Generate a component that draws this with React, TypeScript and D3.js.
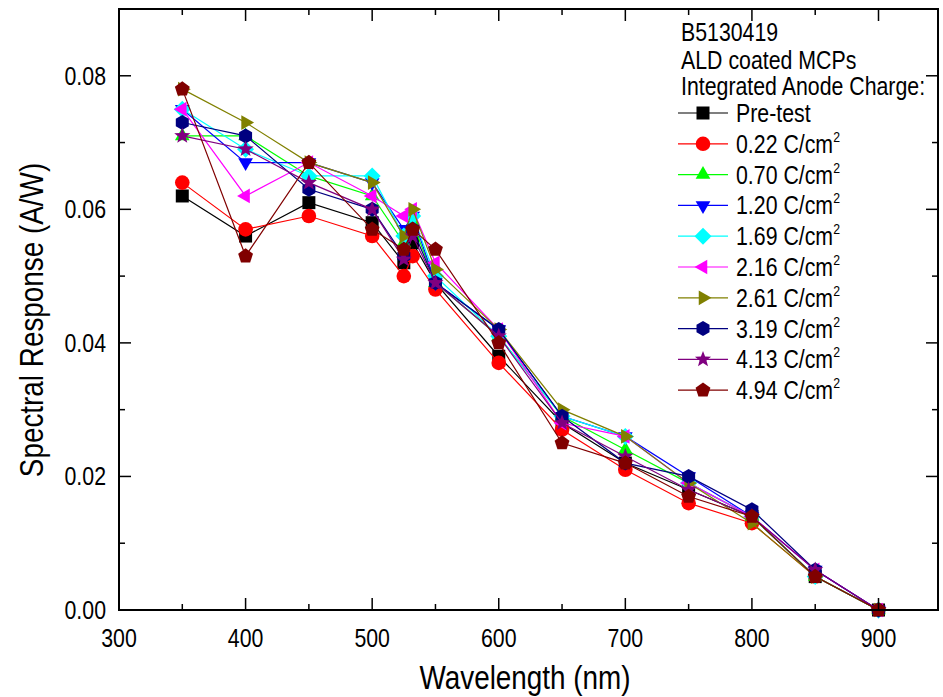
import React from "react";
import * as d3 from "d3";

const wavelengths = [350, 400, 450, 500, 525, 532, 550, 600, 650, 700, 750, 800, 850, 900];

const seriesNames = ["Pre-test", "0.22", "0.70", "1.20", "1.69", "2.16", "2.61", "3.19", "4.13", "4.94"];
const seriesColors = ["#000000", "#FF0000", "#00FF00", "#0000FF", "#00FFFF", "#FF00FF", "#808000", "#000080", "#800080", "#800000"];
const seriesSymbols = ["square", "circle", "up", "down", "diamond", "left", "right", "hexagon", "star", "pentagon"];

const preTest = [0.062, 0.056, 0.061, 0.058, 0.052, 0.055, 0.049, 0.038, 0.028, 0.022, 0.018, 0.014, 0.005, 0];
const c022 = [0.064, 0.057, 0.059, 0.056, 0.050, 0.053, 0.048, 0.037, 0.027, 0.021, 0.016, 0.013, 0.005, 0];
const c070 = [0.071, 0.071, 0.065, 0.062, 0.055, 0.058, 0.049, 0.041, 0.029, 0.024, 0.019, 0.014, 0.005, 0];
const c120 = [0.075, 0.067, 0.067, 0.064, 0.057, 0.059, 0.049, 0.042, 0.029, 0.026, 0.020, 0.014, 0.006, 0];
const c169 = [0.075, 0.069, 0.065, 0.065, 0.056, 0.059, 0.050, 0.041, 0.029, 0.026, 0.019, 0.014, 0.005, 0];
const c216 = [0.075, 0.062, 0.067, 0.062, 0.059, 0.060, 0.052, 0.042, 0.028, 0.026, 0.019, 0.014, 0.006, 0];
const c261 = [0.078, 0.073, 0.067, 0.064, 0.056, 0.060, 0.051, 0.042, 0.030, 0.026, 0.019, 0.013, 0.005, 0];
const c319 = [0.073, 0.071, 0.063, 0.060, 0.053, 0.057, 0.049, 0.042, 0.029, 0.022, 0.020, 0.015, 0.006, 0];
const c413 = [0.071, 0.069, 0.064, 0.060, 0.0525, 0.056, 0.049, 0.041, 0.028, 0.023, 0.018, 0.014, 0.006, 0];
const c494 = [0.078, 0.053, 0.067, 0.057, 0.054, 0.057, 0.054, 0.040, 0.025, 0.022, 0.017, 0.014, 0.005, 0];

const allSeries = [preTest, c022, c070, c120, c169, c216, c261, c319, c413, c494];

const headerLines = ["B5130419", "ALD coated MCPs", "Integrated Anode Charge:"];
const xTicks = [300, 400, 500, 600, 700, 800, 900];
const yTicks = [0, 0.02, 0.04, 0.06, 0.08];

const FONT = "'Liberation Sans', Arial, Helvetica, sans-serif";
const SX = 0.82;

function poly(n: number, r: number, rot: number) {
  const pts: string[] = [];
  for (let i = 0; i < n; i++) {
    const a = rot + (i * 2 * Math.PI) / n;
    pts.push(`${(r * Math.cos(a)).toFixed(2)},${(r * Math.sin(a)).toFixed(2)}`);
  }
  return "M" + pts.join("L") + "Z";
}
function starPath(ro: number, ri: number) {
  const pts: string[] = [];
  for (let i = 0; i < 10; i++) {
    const r = i % 2 === 0 ? ro : ri;
    const a = -Math.PI / 2 + (i * Math.PI) / 5;
    pts.push(`${(r * Math.cos(a)).toFixed(2)},${(r * Math.sin(a)).toFixed(2)}`);
  }
  return "M" + pts.join("L") + "Z";
}

const symbolPaths: Record<string, string> = {
  square: "M-6.5,-6.5L6.5,-6.5L6.5,6.5L-6.5,6.5Z",
  circle: d3.symbol().type(d3.symbolCircle).size(Math.PI * 7.3 * 7.3)() as string,
  up: poly(3, 8.5, -Math.PI / 2),
  down: poly(3, 8.5, Math.PI / 2),
  diamond: "M0,-8.5L8.5,0L0,8.5L-8.5,0Z",
  left: poly(3, 8.5, Math.PI),
  right: poly(3, 8.5, 0),
  hexagon: poly(6, 7.5, Math.PI / 2),
  star: starPath(8.5, 3.6),
  pentagon: poly(5, 7.8, -Math.PI / 2),
};

function Txt(props: { x: number; y: number; size: number; anchor?: string; rotate?: number; children: React.ReactNode }) {
  const { x, y, size, anchor = "start", rotate = 0, children } = props;
  return (
    <text
      transform={`translate(${x},${y}) rotate(${rotate}) scale(${SX},1)`}
      fontSize={size}
      fontFamily={FONT}
      textAnchor={anchor}
      fill="#000"
    >
      {children}
    </text>
  );
}

export default function App() {
  const W = 943, H = 697;
  const x = d3.scaleLinear().domain([300, 947]).range([119, 938]);
  const y = d3.scaleLinear().domain([0, 0.09]).range([610, 9]);
  const line = d3.line<number>().x((_, i) => x(wavelengths[i])).y((d) => y(d));

  const xMinor = d3.range(300, 947, 50);
  const yMinor = d3.range(0, 0.0901, 0.01);

  const left = x(300), right = x(947), top = y(0.09), bottom = y(0);

  return (
    <svg width={W} height={H} style={{ position: "absolute", left: 0, top: 0, background: "#fff" }}>
      <rect x={0} y={0} width={W} height={H} fill="#fff" />
      {/* series */}
      {allSeries.map((s, si) => (
        <g key={si}>
          <path d={line(s) as string} fill="none" stroke={seriesColors[si]} strokeWidth={1.2} />
          {s.map((v, i) => (
            <path
              key={i}
              d={symbolPaths[seriesSymbols[si]]}
              transform={`translate(${x(wavelengths[i])},${y(v)})`}
              fill={seriesColors[si]}
            />
          ))}
        </g>
      ))}
      {/* axes box */}
      <rect x={left} y={top} width={right - left} height={bottom - top} fill="none" stroke="#000" strokeWidth={2} />
      {/* x ticks bottom & top */}
      {xMinor.map((v) => {
        const major = v % 100 === 0;
        const len = major ? 12 : 6;
        return (
          <g key={"xt" + v}>
            <line x1={x(v)} x2={x(v)} y1={bottom} y2={bottom - len} stroke="#000" strokeWidth={1.5} />
            <line x1={x(v)} x2={x(v)} y1={top} y2={top + len} stroke="#000" strokeWidth={1.5} />
          </g>
        );
      })}
      {yMinor.map((v, i) => {
        const major = i % 2 === 0;
        const len = major ? 12 : 6;
        return (
          <g key={"yt" + i}>
            <line x1={left} x2={left + len} y1={y(v)} y2={y(v)} stroke="#000" strokeWidth={1.5} />
            <line x1={right} x2={right - len} y1={y(v)} y2={y(v)} stroke="#000" strokeWidth={1.5} />
          </g>
        );
      })}
      {xTicks.map((v) => (
        <Txt key={"xl" + v} x={x(v)} y={647} size={26} anchor="middle">
          {String(v)}
        </Txt>
      ))}
      {yTicks.map((v) => (
        <Txt key={"yl" + v} x={106} y={y(v) + 9} size={26} anchor="end">
          {v.toFixed(2)}
        </Txt>
      ))}
      <Txt x={525} y={689} size={34} anchor="middle">Wavelength (nm)</Txt>
      <Txt x={43} y={320} size={34} anchor="middle" rotate={-90}>Spectral Response (A/W)</Txt>
      {/* legend */}
      {headerLines.map((t, i) => (
        <Txt key={"h" + i} x={681} y={[41, 69, 95][i]} size={26}>{t}</Txt>
      ))}
      {seriesNames.map((n, i) => {
        const cy = 113 + i * 30.8;
        return (
          <g key={"lg" + i}>
            <line x1={678} x2={728} y1={cy} y2={cy} stroke={seriesColors[i]} strokeWidth={1.2} />
            <path d={symbolPaths[seriesSymbols[i]]} transform={`translate(703,${cy})`} fill={seriesColors[i]} />
            {i === 0 ? (
              <Txt x={736} y={cy + 9} size={26}>{n}</Txt>
            ) : (
              <Txt x={736} y={cy + 9} size={26}>
                {n + " C/cm"}
                <tspan fontSize={15} dy={-11}>2</tspan>
              </Txt>
            )}
          </g>
        );
      })}
    </svg>
  );
}
